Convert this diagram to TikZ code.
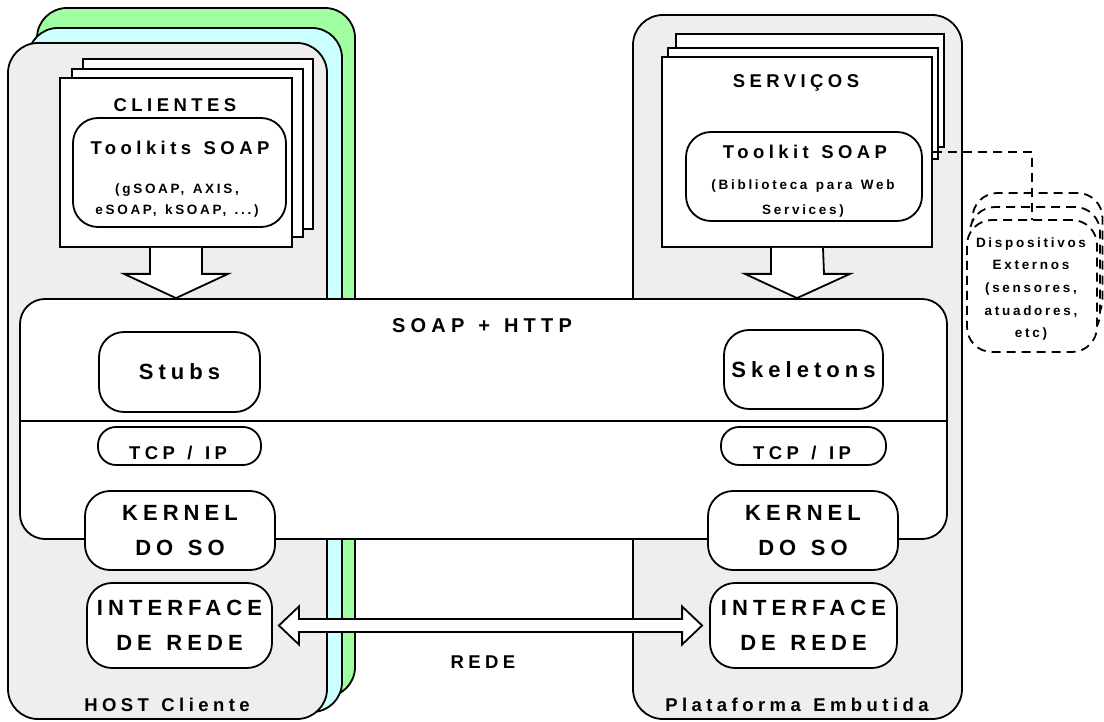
\documentclass[tikz,border=0pt]{standalone}
\usepackage{fontspec}
\newfontfamily\lbl{Liberation Sans}[LetterSpace=22, WordSpace=1.3]
\usetikzlibrary{calc}
\definecolor{hostgrey}{RGB}{238,238,238}
\definecolor{hostgreen}{RGB}{160,255,160}
\definecolor{hostcyan}{RGB}{204,255,255}
\begin{document}
\begin{tikzpicture}[x=1pt,y=-1pt, line width=1.8pt,
  host/.style={draw, rounded corners=30pt, inner sep=0pt},
  rbox/.style={draw, fill=white, rounded corners=25pt, inner sep=0pt, align=center},
  sheet/.style={draw, fill=white, inner sep=0pt},
  dbox/.style={draw, fill=white, dash pattern=on 9pt off 6pt, rounded corners=25pt, inner sep=0pt, line width=1.8pt},
  dashline/.style={draw, dash pattern=on 9pt off 6pt, line width=1.8pt},
  blk/.style={draw, fill=white, line join=miter},
  bigf/.style={font=\lbl\bfseries\addfontfeature{LetterSpace=23}\fontsize{22}{35}\selectfont, align=center},
  medf/.style={font=\lbl\bfseries\addfontfeature{LetterSpace=24}\fontsize{18.5}{22}\selectfont, align=center, inner sep=0pt},
  soapf/.style={font=\lbl\bfseries\addfontfeature{LetterSpace=26}\fontsize{20}{24}\selectfont, align=center, inner sep=0pt},
  smlf/.style={font=\lbl\bfseries\addfontfeature{LetterSpace=20}\fontsize{13.5}{21}\selectfont, align=center, inner sep=0pt},
]
\useasboundingbox (0,0) rectangle (1104,722);

% hosts
\node[host, fill=hostgreen, minimum width=318pt, minimum height=689pt] (greenl) at (196,352.5) {};
\node[host, fill=hostcyan, minimum width=314pt, minimum height=684pt] (cyanl) at (185,370) {};
\node[host, fill=hostgrey, minimum width=319pt, minimum height=676pt] (hostl) at (167.5,381) {};
\node[host, fill=hostgrey, minimum width=329pt, minimum height=704pt] (hostr) at (797.5,367) {};

% client sheets
\node[sheet, minimum width=230pt, minimum height=170pt] (clib) at (198,144) {};
\node[sheet, minimum width=231pt, minimum height=168pt] (clim) at (187.5,153) {};
\node[sheet, minimum width=232pt, minimum height=169pt] (clif) at (176,162.5) {};
\node[rbox, minimum width=213pt, minimum height=109pt] (tkl) at (179.5,172.5) {};

% service sheets
\node[sheet, minimum width=268pt, minimum height=113pt] (srvb) at (810,90.5) {};
\node[sheet, minimum width=270pt, minimum height=111pt] (srvm) at (803,103.5) {};
\node[sheet, minimum width=270pt, minimum height=190pt] (srvf) at (797,152) {};
\node[rbox, minimum width=236pt, minimum height=89pt] (tkr) at (804,176.5) {};

% SOAP + HTTP layer
\node[rbox, minimum width=927pt, minimum height=240pt] (big) at (483.5,419) {};
\coordinate (sepy) at (0,421);
\draw (sepy -| big.west) -- (sepy -| big.east);

% down arrows
\draw[blk] ($(clif.south)+(-26,0)$) -- ++(0,26) -- ++(-26,0) -- (clif.south |- big.north)
  -- ($(clif.south)+(52,26)$) -- ++(-26,0) -- ($(clif.south)+(26,0)$);
\draw[blk] ($(srvf.south)+(-26,0)$) -- ++(0,26) -- ++(-26,0) -- (srvf.south |- big.north)
  -- ($(srvf.south)+(53,26)$) -- ++(-26,0) -- ($(srvf.south)+(26,0)$);

% inner boxes
\node[rbox, bigf, minimum width=161pt, minimum height=80pt] (stubs) at (179.5,372) {Stubs};
\node[rbox, bigf, minimum width=159pt, minimum height=79pt] (skel) at (803.5,369.5) {Skeletons};
\node[rbox, rounded corners=18pt, minimum width=163pt, minimum height=38pt] (tcpl) at (179.5,446) {};
\node[rbox, rounded corners=18pt, minimum width=165pt, minimum height=38pt] (tcpr) at (803.5,446) {};
\node[rbox, bigf, minimum width=190pt, minimum height=79pt] (kerl) at (180,530.5) {KERNEL\\DO SO};
\node[rbox, bigf, minimum width=190pt, minimum height=79pt] (kerr) at (803,530.5) {KERNEL\\DO SO};
\node[rbox, bigf, minimum width=185pt, minimum height=85pt] (ifl) at (179.5,625.5) {INTERFACE\\DE REDE};
\node[rbox, bigf, minimum width=187pt, minimum height=85pt] (ifr) at (803.5,625.5) {INTERFACE\\DE REDE};

% network double arrow
\path ($(ifl.east)+(6,0)$) coordinate (dl) ($(ifr.west)+(-7,0)$) coordinate (dr);
\draw[blk] (dl) -- ++(20,-19) -- ++(0,12.5) -- ($(dr)+(-20,-6.5)$) -- ++(0,-12.5) -- (dr)
  -- ++(-20,19) -- ++(0,-12.5) -- ($(dl)+(20,6.5)$) -- ++(0,12.5) -- cycle;

% external devices
\node[dbox, minimum width=130pt, minimum height=132pt] (dev1) at (1037.5,259) {};
\node[dbox, minimum width=130pt, minimum height=132pt] (dev2) at (1035,273) {};
\draw[dashline] (srvf.east) -| (1032,220);
\node[dbox, minimum width=130pt, minimum height=132pt] (dev3) at (1032,286) {};

% texts
\node[medf] (tclientes) at (175,105) {CLIENTES};
\node[medf] (ttkl) at (180,148) {Toolkits SOAP};
\node[smlf] (ttkllist) at (177,201) {(gSOAP, AXIS,\\eSOAP, kSOAP, ...)};
\node[medf] (tserv) at (796,83) {SERVIÇOS};
\node[medf] (ttkr) at (805,152) {Toolkit SOAP};
\node[smlf, font=\lbl\bfseries\addfontfeature{LetterSpace=20}\fontsize{13.5}{25}\selectfont] (ttkrlib) at (803,198.5) {(Biblioteca para Web\\Services)};
\node[soapf] (tsoap) at (482,326) {SOAP + HTTP};
\node[medf] (ttcpl) at (178,453) {TCP / IP};
\node[medf] (ttcpr) at (802,453) {TCP / IP};
\node[medf] (trede) at (483,662) {REDE};
\node[medf] (thost) at (167,705) {HOST Cliente};
\node[medf] (tplat) at (797,705) {Plataforma Embutida};
\node[smlf, font=\lbl\bfseries\addfontfeature{LetterSpace=20}\fontsize{13.5}{22.7}\selectfont] (tdev) at (1031,289) {Dispositivos\\Externos\\(sensores,\\atuadores,\\etc)};
\end{tikzpicture}
\end{document}
